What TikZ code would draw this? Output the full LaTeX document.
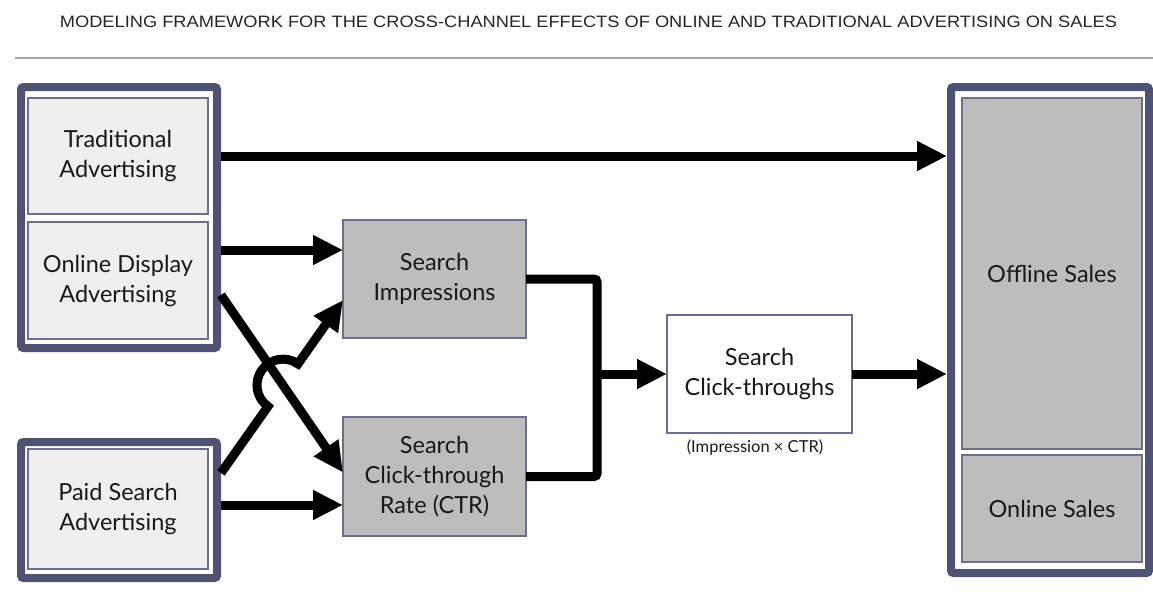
\documentclass[tikz,border=0pt]{standalone}
\usepackage{graphicx}
\usepackage{fontspec}
\setmainfont{Lato}
\newfontfamily\titlefont{Liberation Sans}
\usetikzlibrary{arrows.meta,calc}
\definecolor{slate}{HTML}{4E5373}
\definecolor{inbord}{HTML}{6A6F90}
\definecolor{lightfill}{HTML}{EFEFEF}
\definecolor{midfill}{HTML}{BDBDBD}
\begin{document}
\begin{tikzpicture}[x=1pt,y=1pt,
  container/.style={draw=slate, line width=8pt, fill=white, rounded corners=2.5pt, inner sep=0pt, outer sep=4pt},
  inbox/.style={draw=inbord, line width=1.5pt, inner sep=0pt, outer sep=0pt, align=center,
    font=\fontsize{23.5}{30}\selectfont, text=black!90},
  srcbox/.style={inbox, fill=lightfill},
  graybox/.style={inbox, fill=midfill},
  arr/.style={line width=9pt, -{Triangle[length=30pt,width=28pt]}},
  conn/.style={line width=9pt}
]
\useasboundingbox (0,0) rectangle (1153,-597);
% title and rule
\node[font=\titlefont, inner sep=0pt, text=black!85] (title) at (588.5,-22)
  {\resizebox{1057pt}{11.5pt}{MODELING FRAMEWORK FOR THE CROSS-CHANNEL EFFECTS OF ONLINE AND TRADITIONAL ADVERTISING ON SALES}};
\draw[line width=2pt, black!35] (15,-58) -- (1153,-58);

% containers
\node[container, minimum width=196pt, minimum height=261pt] (contA) at (119,-217.5) {};
\node[container, minimum width=196pt, minimum height=136pt] (contB) at (119,-510) {};
\node[container, minimum width=198pt, minimum height=486pt] (contC) at (1050,-330) {};

% source boxes
\node[srcbox, minimum width=180pt, minimum height=116pt] (trad) at (118,-156) {Traditional\\Advertising};
\node[srcbox, minimum width=180pt, minimum height=117pt] (od) at (118,-280.5) {Online Display\\Advertising};
\node[srcbox, minimum width=180pt, minimum height=120pt] (paid) at (118,-509) {Paid Search\\Advertising};

% sales boxes
\node[graybox, minimum width=180pt, minimum height=351pt] (off) at (1052,-273.5) {Offline Sales};
\node[graybox, minimum width=180pt, minimum height=107pt] (ons) at (1052,-508.5) {Online Sales};

% middle boxes
\node[graybox, minimum width=183pt, minimum height=118pt] (imp) at (434.5,-279) {Search\\Impressions};
\node[graybox, minimum width=183pt, minimum height=119pt] (ctr) at (434.5,-476.5) {Search\\Click-through\\Rate (CTR)};
\node[inbox, fill=white, minimum width=185pt, minimum height=118pt] (click) at (759.5,-374) {Search\\Click-throughs};
\node[font=\fontsize{16.5}{18}\selectfont, inner sep=0pt, text=black!90] (formula) at (755,-448) {(Impression × CTR)};

% coordinates
\coordinate (odH) at ($(imp.west)+(0,29)$);
\coordinate (odS) at ($(od.east)+(0,-14.5)$);
\coordinate (odT) at ($(ctr.west)+(0,4)$);
\coordinate (psS) at ($(paid.east)+(0,36)$);
\coordinate (psT) at ($(imp.west)+(0,-21)$);
\coordinate (psH) at ($(paid.east)+(0,4)$);
\coordinate (jx) at (597,0);

% connectors
\draw[arr] (trad.east -| contA.east) -- (trad.east -| contC.west);
\draw[arr] (odH -| contA.east) -- (odH);
\draw[arr] (psH -| contB.east) -- (psH -| ctr.west);
% paid search diagonal with a hop over the display diagonal
\coordinate (X) at (intersection of {odS -| contA.east}--odT and {psS -| contB.east}--psT);
\draw[arr] let \p1=($(psT)-(psS -| contB.east)$), \n1={atan2(\y1,\x1)} in
  (psS -| contB.east) -- ($(X)!26pt!(psS -| contB.east)$)
  arc[start angle=\n1+180, end angle=\n1, radius=26pt] -- (psT);
\draw[arr] (odS -| contA.east) -- (odT);
% merge of impressions and CTR
\draw[conn, rounded corners=3pt] (imp.east) -- (imp.east -| jx) -- (ctr.east -| jx) -- (ctr.east);
\draw[arr] (click.west -| jx) -- (click.west);
\draw[arr] (click.east) -- (click.east -| contC.west);
\end{tikzpicture}
\end{document}
